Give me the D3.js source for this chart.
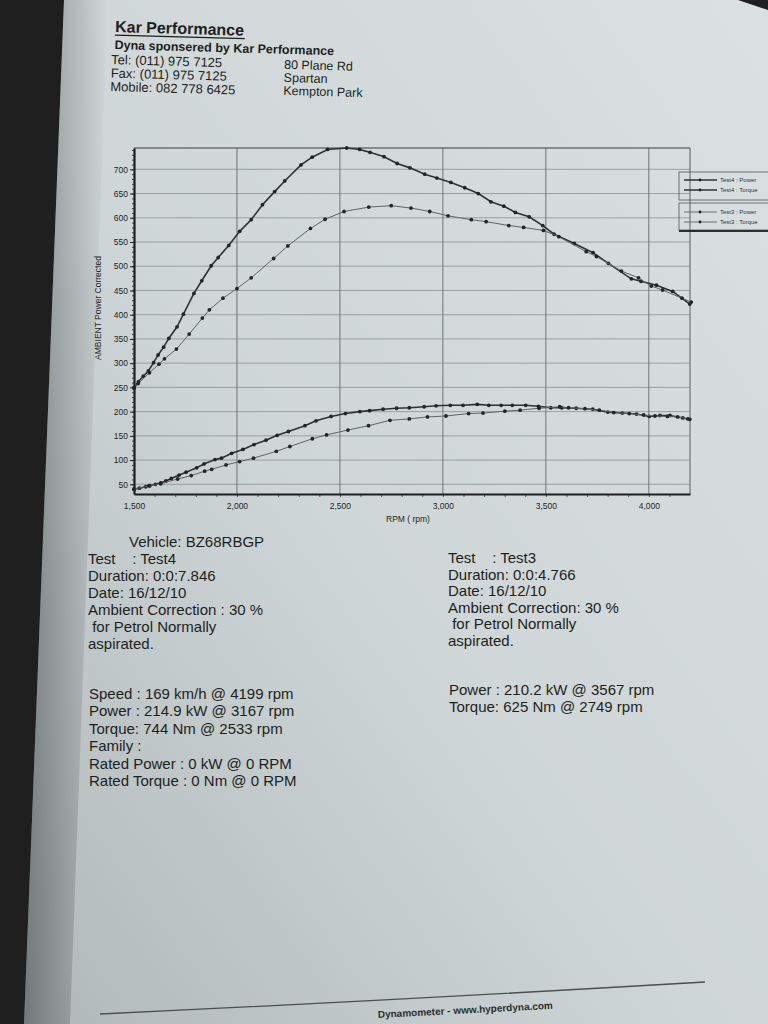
<!DOCTYPE html>
<html><head><meta charset="utf-8">
<script src="https://cdn.jsdelivr.net/npm/d3@7"></script>
<style>body{margin:0;background:#222}svg{display:block}</style>
</head><body>
<svg id="c" width="768" height="1024"></svg>
<script>
// ---------------- data (read from the dyno sheet) ----------------
const test4TorqueRpm = [1500,1522,1545,1570,1595,1617,1644,1669,1709,1740,1791,1829,1875,1909,1960,2013,2069,2124,2183,2232,2311,2365,2440,2533,2596,2646,2714,2778,2840,2912,2971,3039,3106,3172,3233,3296,3352,3419,3485,3540,3638,3729,3804,3915,3962,4037,4116,4199];
const test4TorqueNm  = [248,262,273,284,301,317,333,351,375,401,444,470,501,518,543,572,596,627,654,676,709,725,741,744,741,735,726,712,703,690,682,673,662,650,633,624,611,602,584,566,547,528,506,474,469,461,448,422];

const test3TorqueRpm = [1500,1520,1575,1621,1648,1706,1768,1832,1866,1932,2000,2069,2178,2247,2357,2428,2520,2640,2749,2845,2936,3025,3138,3210,3320,3392,3488,3563,3696,3746,3867,3950,4012,4067,4161,4206];
const test3TorqueNm  = [250,258,280,298,309,329,360,393,410,434,454,476,516,542,578,597,613,622,625,620,613,604,596,592,584,580,574,561,530,520,490,476,459,451,434,426];

const test4PowerRpm = [1500,1526,1557,1577,1604,1630,1655,1681,1719,1753,1804,1840,1893,1925,1974,2029,2083,2141,2195,2250,2330,2384,2457,2527,2597,2644,2710,2775,2837,2909,2967,3036,3098,3167,3223,3283,3337,3402,3464,3524,3577,3647,3728,3801,3871,3940,4002,4054,4103,4165,4199];
const test4PowerKw  = [40,42,45,47,50,53,57,62,69,75,84,92,101,104,114,122,132,141,151,159,171,181,190,196,200,202,205,207,208,210,212,213,213,215,213,213,213,213,211,208,208,207,205,199,197,195,190,192,192,187,184];

const test3PowerRpm = [1500,1573,1630,1712,1778,1843,1877,1947,2013,2080,2191,2257,2366,2435,2539,2639,2743,2837,2925,3015,3125,3195,3301,3375,3467,3567,3610,3690,3760,3830,3905,3975,4030,4090,4140,4190];
const test3PowerKw  = [40,47,51,61,68,77,81,90,97,104,118,128,144,152,162,171,182,185,189,191,196,197,201,203,207,210,208,206,203,198,196,193,191,190,189,185];

const xTickValues = [1500,2000,2500,3000,3500,4000];
const xTickLabels = ["1,500","2,000","2,500","3,000","3,500","4,000"];
const yTickValues = [50,100,150,200,250,300,350,400,450,500,550,600,650,700];
const legendLabels = ["Test4 : Power","Test4 : Torque","Test3 : Power","Test3 : Torque"];

const headerLeft = ["Tel: (011) 975 7125","Fax: (011) 975 7125","Mobile: 082 778 6425"];
const headerRight = ["80 Plane Rd","Spartan","Kempton Park"];
const test4Info = ["Test    : Test4","Duration: 0:0:7.846","Date: 16/12/10","Ambient Correction : 30 %"," for Petrol Normally","aspirated."];
const test4Results = ["Speed : 169 km/h @ 4199 rpm","Power : 214.9 kW @ 3167 rpm","Torque: 744 Nm @ 2533 rpm","Family :","Rated Power : 0 kW @ 0 RPM","Rated Torque : 0 Nm @ 0 RPM"];
const test3Info = ["Test    : Test3","Duration: 0:0:4.766","Date: 16/12/10","Ambient Correction: 30 %"," for Petrol Normally","aspirated."];
const test3Results = ["Power : 210.2 kW @ 3567 rpm","Torque: 625 Nm @ 2749 rpm"];

// ---------------- drawing ----------------
const svg = d3.select("#c");
const defs = svg.append("defs");
const pg = defs.append("linearGradient").attr("id","paper").attr("x1","1").attr("y1","0").attr("x2","0").attr("y2","1");
pg.append("stop").attr("offset","0").attr("stop-color","#dbe0e0");
pg.append("stop").attr("offset","0.55").attr("stop-color","#cfd6d7");
pg.append("stop").attr("offset","1").attr("stop-color","#b0b8ba");
const sh = defs.append("linearGradient").attr("id","shade").attr("x1","0").attr("y1","0").attr("x2","1").attr("y2","0");
sh.append("stop").attr("offset","0").attr("stop-color","#000").attr("stop-opacity","0.35");
sh.append("stop").attr("offset","1").attr("stop-color","#000").attr("stop-opacity","0");
defs.append("clipPath").attr("id","pageclip").append("rect").attr("x",0).attr("y",0).attr("width",768).attr("height",1024);

svg.append("rect").attr("width",768).attr("height",1024).attr("fill","#1f1f1f");
svg.append("polygon").attr("points","64,0 738,0 768,10 768,1024 24,1024").attr("fill","url(#paper)");
svg.append("polygon").attr("points","64,0 108,0 70,1024 24,1024").attr("fill","url(#shade)");

const ink = "#1d1f20";
const font = "'Liberation Sans', Arial, sans-serif";

// header
const hdr = svg.append("g").attr("transform","rotate(1.6,112,30)").attr("fill",ink).style("font-family",font);
hdr.append("text").attr("x",115).attr("y",32).attr("font-size",16).attr("font-weight","bold").text("Kar Performance");
hdr.append("line").attr("x1",115).attr("x2",245).attr("y1",35).attr("y2",35).attr("stroke",ink).attr("stroke-width",1.3);
hdr.append("text").attr("x",115).attr("y",49).attr("font-size",12.5).attr("font-weight","bold").text("Dyna sponsered by Kar Performance");
hdr.selectAll("text.hl").data(headerLeft).join("text").attr("class","hl")
  .attr("x",112).attr("y",(d,i)=>64+i*13.5).attr("font-size",13).text(d=>d);
hdr.selectAll("text.hr").data(headerRight).join("text").attr("class","hr")
  .attr("x",285).attr("y",(d,i)=>64+i*13).attr("font-size",12.5).text(d=>d);

// chart scales
const x = d3.scaleLinear().domain([1500,4200]).range([134,690]);
const y = d3.scaleLinear().domain([30,744]).range([494,148]);
const ch = svg.append("g").style("font-family",font);

// grid
ch.selectAll("line.hg").data(yTickValues).join("line").attr("class","hg")
  .attr("x1",x(1500)).attr("x2",x(4200)).attr("y1",d=>y(d)).attr("y2",d=>y(d))
  .attr("stroke","#8c9293").attr("stroke-width",0.8);
ch.selectAll("line.vg").data(xTickValues.slice(1)).join("line").attr("class","vg")
  .attr("x1",d=>x(d)).attr("x2",d=>x(d)).attr("y1",y(744)).attr("y2",y(30))
  .attr("stroke","#6f7576").attr("stroke-width",1);
// top and right border
ch.append("line").attr("x1",x(1500)).attr("x2",x(4200)).attr("y1",y(744)).attr("y2",y(744)).attr("stroke","#3a3d3e").attr("stroke-width",1.2);
ch.append("line").attr("x1",x(4200)).attr("x2",x(4200)).attr("y1",y(744)).attr("y2",y(30)).attr("stroke","#5b6061").attr("stroke-width",1);

// axes
const yMinor = ch.append("g").attr("transform",`translate(${x(1500)},0)`)
  .call(d3.axisLeft(y).tickValues(d3.range(40,744,10)).tickSize(2).tickFormat(""));
yMinor.select(".domain").remove();
yMinor.selectAll("line").attr("stroke","#444");
const yAx = ch.append("g").attr("transform",`translate(${x(1500)},0)`)
  .call(d3.axisLeft(y).tickValues(yTickValues).tickSize(4).tickPadding(2).tickFormat(d3.format("d")).tickSizeOuter(0));
yAx.select(".domain").attr("stroke",ink).attr("stroke-width",2.2);
yAx.selectAll("text").attr("font-size",8.5).attr("fill",ink).style("font-family",font);
yAx.selectAll(".tick line").attr("stroke",ink);

const xMinor = ch.append("g").attr("transform",`translate(0,${y(30)})`)
  .call(d3.axisBottom(x).tickValues(d3.range(1600,4200,100)).tickSize(3).tickFormat(""));
xMinor.select(".domain").remove();
xMinor.selectAll("line").attr("stroke","#555");
const xAx = ch.append("g").attr("transform",`translate(0,${y(30)})`)
  .call(d3.axisBottom(x).tickValues(xTickValues).tickSize(0).tickPadding(9).tickFormat((d,i)=>xTickLabels[i]).tickSizeOuter(0));
xAx.select(".domain").attr("stroke",ink).attr("stroke-width",1.8);
xAx.selectAll("text").attr("font-size",8.5).attr("fill",ink).style("font-family",font);

// axis titles
ch.append("text").attr("transform","translate(101,308) rotate(-90)").attr("text-anchor","middle")
  .attr("font-size",8.5).attr("fill",ink).text("AMBIENT Power Corrected");
ch.append("text").attr("x",408).attr("y",522).attr("text-anchor","middle")
  .attr("font-size",8.5).attr("fill",ink).text("RPM ( rpm)");

// series
const series = [
  {rpm:test4TorqueRpm, v:test4TorqueNm, c:"#2e3233", w:1.6},
  {rpm:test3TorqueRpm, v:test3TorqueNm, c:"#5f6566", w:1.0},
  {rpm:test4PowerRpm,  v:test4PowerKw,  c:"#2e3233", w:1.6},
  {rpm:test3PowerRpm,  v:test3PowerKw,  c:"#5f6566", w:1.0}
];
const line = d3.line().x(d=>x(d[0])).y(d=>y(d[1]));
series.forEach(s=>{
  const pts = s.rpm.map((r,i)=>[r,s.v[i]]);
  ch.append("path").datum(pts).attr("d",line).attr("fill","none").attr("stroke",s.c).attr("stroke-width",s.w);
  ch.selectAll(null).data(pts).join("circle").attr("cx",d=>x(d[0])).attr("cy",d=>y(d[1])).attr("r",1.9).attr("fill","#222627");
});

// legend (its box runs off the right edge of the page, like the photo)
const lg = svg.append("g").attr("clip-path","url(#pageclip)").style("font-family",font);
lg.append("rect").attr("x",679).attr("y",172).attr("width",100).attr("height",28).attr("fill","none").attr("stroke","#555").attr("stroke-width",0.8);
lg.append("rect").attr("x",679).attr("y",203).attr("width",100).attr("height",27).attr("fill","none").attr("stroke","#555").attr("stroke-width",0.8);
lg.append("line").attr("x1",679).attr("x2",780).attr("y1",231).attr("y2",231).attr("stroke","#2b2e2f").attr("stroke-width",2.2);
const legY = [180,190,212,222];
legendLabels.forEach((t,i)=>{
  const c = i<2 ? "#2e3233" : "#5f6566";
  lg.append("line").attr("x1",684).attr("x2",717).attr("y1",legY[i]).attr("y2",legY[i]).attr("stroke",c).attr("stroke-width",i<2?1.3:0.9);
  lg.append("circle").attr("cx",700).attr("cy",legY[i]).attr("r",1.4).attr("fill","#222");
  lg.append("text").attr("x",720).attr("y",legY[i]+2.2).attr("font-size",6).attr("fill","#333").text(t);
});

// text blocks
const tb = svg.append("g").attr("fill",ink).style("font-family",font).attr("font-size",15);
tb.append("text").attr("x",129).attr("y",547).text("Vehicle: BZ68RBGP");
tb.selectAll("text.a").data(test4Info).join("text").attr("class","a").attr("x",88).attr("y",(d,i)=>564+i*16.9).style("white-space","pre").text(d=>d);
tb.selectAll("text.b").data(test4Results).join("text").attr("class","b").attr("x",89).attr("y",(d,i)=>699+i*17.4).text(d=>d);
tb.selectAll("text.c").data(test3Info).join("text").attr("class","c").attr("x",448).attr("y",(d,i)=>563+i*16.6).style("white-space","pre").text(d=>d);
tb.selectAll("text.d").data(test3Results).join("text").attr("class","d").attr("x",449).attr("y",(d,i)=>695+i*17).text(d=>d);

// footer
const ft = svg.append("g");
ft.append("path").attr("d","M100,1014 Q400,1000 705,982").attr("fill","none").attr("stroke","#4a4f50").attr("stroke-width",1.3);
ft.append("text").attr("transform","translate(378,1018) rotate(-3)").attr("font-size",10).attr("font-weight","bold")
  .attr("fill","#2a2d2e").style("font-family",font).text("Dynamometer  -  www.hyperdyna.com");
</script>
</body></html>
